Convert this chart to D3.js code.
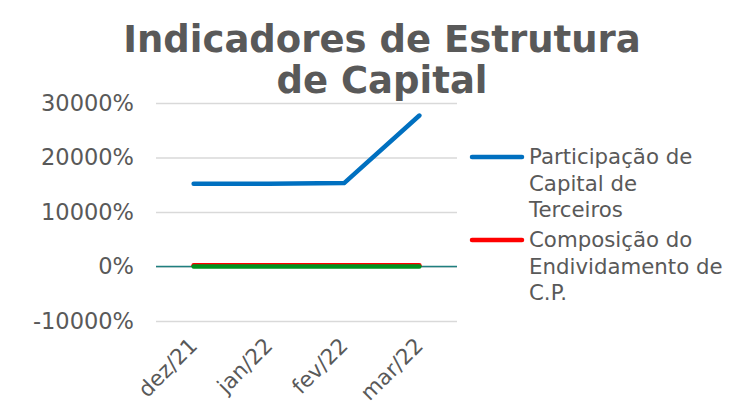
<html lang="en">
<head>
  <meta http-equiv="Content-Type" content="text/html; charset=utf-8" />
  <script src="https://d3js.org/d3.v7.min.js"></script>
  <style>
    body { margin: 0; background: #fff; }
    text { font-family: "DejaVu Sans", Verdana, sans-serif; fill: #595959; }
  </style>
</head>
<body>
  <div id="chart"></div>
  <script>
    const categories = ["dez/21", "jan/22", "fev/22", "mar/22"];
    const participacao = [15200, 15200, 15300, 27700];
    const composicao = [250, 250, 250, 250];
    const terceiraSerie = [0, 0, 0, 0];
    const yTicks = [-10000, 0, 10000, 20000, 30000];
    const legendLabels = [
      ["Participação de", "Capital de", "Terceiros"],
      ["Composição do", "Endividamento de", "C.P."]
    ];
    const series = [
      { values: participacao, color: "#0070C0" },
      { values: composicao, color: "#FF0000" },
      { values: terceiraSerie, color: "#00921F" }
    ];

    const svgW = 740, svgH = 413;
    const plot = { left: 156, right: 457, top: 103, bottom: 321 };

    const svg = d3.select("#chart").append("svg")
      .attr("width", svgW).attr("height", svgH);

    // title
    svg.append("text").attr("x", 382).attr("y", 52)
      .attr("text-anchor", "middle").attr("font-size", 37).attr("font-weight", "bold")
      .text("Indicadores de Estrutura");
    svg.append("text").attr("x", 382).attr("y", 93)
      .attr("text-anchor", "middle").attr("font-size", 37).attr("font-weight", "bold")
      .text("de Capital");

    const x = d3.scaleBand().domain(categories).range([plot.left, plot.right]);
    const y = d3.scaleLinear().domain([-10000, 30000]).range([plot.bottom, plot.top]);

    // gridlines + y labels
    svg.append("g")
      .attr("transform", `translate(${plot.left},0)`)
      .call(d3.axisLeft(y).tickValues(yTicks).tickFormat(d => d + "%").tickSize(-(plot.right - plot.left)).tickPadding(22))
      .call(g => g.select(".domain").remove())
      .call(g => g.selectAll("line").attr("stroke", "#D9D9D9").attr("stroke-width", 1.5))
      .call(g => g.selectAll("text").attr("font-size", 22.5).attr("fill", "#595959")
        .attr("font-family", "DejaVu Sans, Verdana, sans-serif"));

    // zero axis line
    svg.append("line")
      .attr("x1", plot.left).attr("x2", plot.right)
      .attr("y1", y(0)).attr("y2", y(0))
      .attr("stroke", "#1F7F7F").attr("stroke-width", 1.5);

    // x labels
    svg.append("g").selectAll("text").data(categories).enter()
      .append("text")
      .attr("transform", d => `translate(${x(d) + x.bandwidth() / 2 + 5},${plot.bottom + 26}) rotate(-45)`)
      .attr("text-anchor", "end").attr("font-size", 21.5)
      .text(d => d);

    // lines
    const line = d3.line()
      .x((d, i) => x(categories[i]) + x.bandwidth() / 2)
      .y(d => y(d));
    series.forEach(s => {
      svg.append("path").datum(s.values)
        .attr("d", line).attr("fill", "none")
        .attr("stroke", s.color).attr("stroke-width", 4.5)
        .attr("stroke-linecap", "round").attr("stroke-linejoin", "round");
    });

    // legend
    const legendY = [157, 240];
    legendLabels.forEach((lines, i) => {
      svg.append("line")
        .attr("x1", 472).attr("x2", 522)
        .attr("y1", legendY[i]).attr("y2", legendY[i])
        .attr("stroke", series[i].color).attr("stroke-width", 4.5).attr("stroke-linecap", "round");
      lines.forEach((t, j) => {
        svg.append("text").attr("x", 529).attr("y", legendY[i] + 7 + j * 26.5)
          .attr("font-size", 21.3).text(t);
      });
    });
  </script>
</body>
</html>
